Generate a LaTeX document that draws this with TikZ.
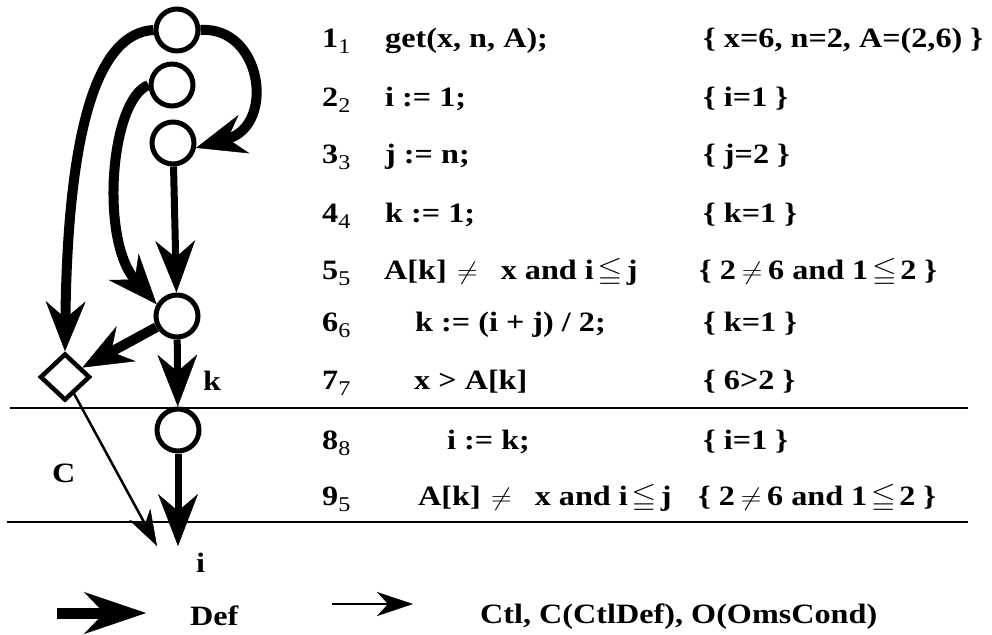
\documentclass[tikz,border=0pt]{standalone}
\usepackage{fontspec}
\usepackage{amssymb}
\usepackage{graphicx}
\setmainfont{Liberation Serif}
\usetikzlibrary{arrows.meta,shapes.geometric}
\newcommand{\sbs}[1]{{\fontsize{21}{21}\selectfont\mdseries\raisebox{-6pt}{#1}}}
\newcommand{\xs}[1]{\scalebox{1.15}[1]{#1}}
\newcommand{\myneq}{\hspace{5pt}$\neq$\hspace{5pt}}
\newcommand{\myleqq}{\hspace{3pt}$\leqq$\hspace{3pt}}
\newcommand{\codecond}{A[k]\hspace{9pt}$\neq$\hspace{20pt}x and i\hspace{3pt}$\leqq$\hspace{4pt}j}
\begin{document}
\begin{tikzpicture}[x=1pt,y=-1pt,
  vtx/.style={circle, draw, line width=5pt, minimum size=42pt, inner sep=0pt},
  dnode/.style={diamond, draw, line width=4.5pt, minimum width=50pt, minimum height=47pt, inner sep=0pt},
  def/.style={line width=10pt, -{Stealth[length=50pt,width=40pt,inset=17pt,line width=0.5pt]}},
  defv/.style={line width=7pt, -{Stealth[length=52pt,width=40pt,inset=17pt,line width=0.5pt]}},
  legdef/.style={line width=11pt, -{Stealth[length=62pt,width=42pt,inset=20pt,line width=0.5pt]}},
  ctl/.style={line width=2.5pt, -{Stealth[length=36pt,width=24pt,inset=11pt,line width=0.5pt]}},
  txt/.style={anchor=base west, inner sep=0pt, font=\fontsize{28}{30}\selectfont\bfseries},
  rulel/.style={line width=2.2pt}]
\useasboundingbox (0,0) rectangle (992,634);

% rules
\coordinate (r1a) at (10,408); \coordinate (r1b) at (968,408);
\coordinate (r2a) at (7,522);  \coordinate (r2b) at (968,522);
\draw[rulel] (r1a) -- (r1b);
\draw[rulel] (r2a) -- (r2b);

% graph nodes
\node[vtx] (n1) at (177,30) {};
\node[vtx] (n2) at (172,85) {};
\node[vtx] (n3) at (173,143) {};
\node[vtx] (n6) at (177,316) {};
\node[vtx] (n8) at (178,430) {};
\node[dnode] (d) at (65,377) {};
\coordinate (ti) at (178,546);
\coordinate (tc) at (157,546);

% edges
\draw[def] (n1.east) .. controls (262,26) and (276,125) .. (n3.-12);
\draw[def] (n1.west) .. controls (100,33) and (68,120) .. (d.north);
\draw[def] (n2.west) .. controls (110,100) and (100,240) .. (n6.150);
\draw[defv] (n3) -- (n6);
\draw[def] (n6) -- (d);
\draw[defv] (n6) -- (n8);
\draw[defv] (n8) -- (ti);
\draw[ctl] (d) -- (tc);

% labels
\node[txt] (lk) at (203,390) {\xs{k}};
\node[txt] (li) at (196,572) {\xs{i}};
\node[txt] (lc) at (52,482) {\xs{C}};

% rows
\node[txt] (a1) at (322,48) {\xs{1\sbs{1}}};
\node[txt] (a2) at (322,106) {\xs{2\sbs{2}}};
\node[txt] (a3) at (322,163) {\xs{3\sbs{3}}};
\node[txt] (a4) at (322,222) {\xs{4\sbs{4}}};
\node[txt] (a5) at (322,279) {\xs{5\sbs{5}}};
\node[txt] (a6) at (322,331) {\xs{6\sbs{6}}};
\node[txt] (a7) at (322,389) {\xs{7\sbs{7}}};
\node[txt] (a8) at (322,449) {\xs{8\sbs{8}}};
\node[txt] (a9) at (322,505) {\xs{9\sbs{5}}};

\node[txt] (b1) at (385,48) {\xs{get(x, n, A);}};
\node[txt] (b2) at (385,106) {\xs{i := 1;}};
\node[txt] (b3) at (385,163) {\xs{j := n;}};
\node[txt] (b4) at (385,222) {\xs{k := 1;}};
\node[txt] (b5) at (384,279) {\xs{\codecond}};
\node[txt] (b6) at (415,331) {\xs{k := (i + j) / 2;}};
\node[txt] (b7) at (414,389) {\xs{x > A[k]}};
\node[txt] (b8) at (447,449) {\xs{i := k;}};
\node[txt] (b9) at (418,505) {\xs{\codecond}};

\node[txt] (c1) at (703,48) {\xs{\{ x=6, n=2, A=(2,6) \}}};
\node[txt] (c2) at (703,106) {\xs{\{ i=1 \}}};
\node[txt] (c3) at (703,163) {\xs{\{ j=2 \}}};
\node[txt] (c4) at (703,222) {\xs{\{ k=1 \}}};
\node[txt] (c5) at (699,279) {\xs{\{ 2\myneq6 and 1\myleqq2 \}}};
\node[txt] (c6) at (703,331) {\xs{\{ k=1 \}}};
\node[txt] (c7) at (703,389) {\xs{\{ 6>2 \}}};
\node[txt] (c8) at (703,449) {\xs{\{ i=1 \}}};
\node[txt] (c9) at (698,505) {\xs{\{ 2\myneq6 and 1\myleqq2 \}}};

% legend
\coordinate (l1a) at (57,613); \coordinate (l1b) at (146,613);
\draw[legdef] (l1a) -- (l1b);
\node[txt] (ldef) at (190,625) {\xs{Def}};
\coordinate (l2a) at (332,604); \coordinate (l2b) at (413,604);
\draw[ctl] (l2a) -- (l2b);
\node[txt] (lctl) at (480,623) {\xs{Ctl, C(CtlDef), O(OmsCond)}};
\end{tikzpicture}
\end{document}
